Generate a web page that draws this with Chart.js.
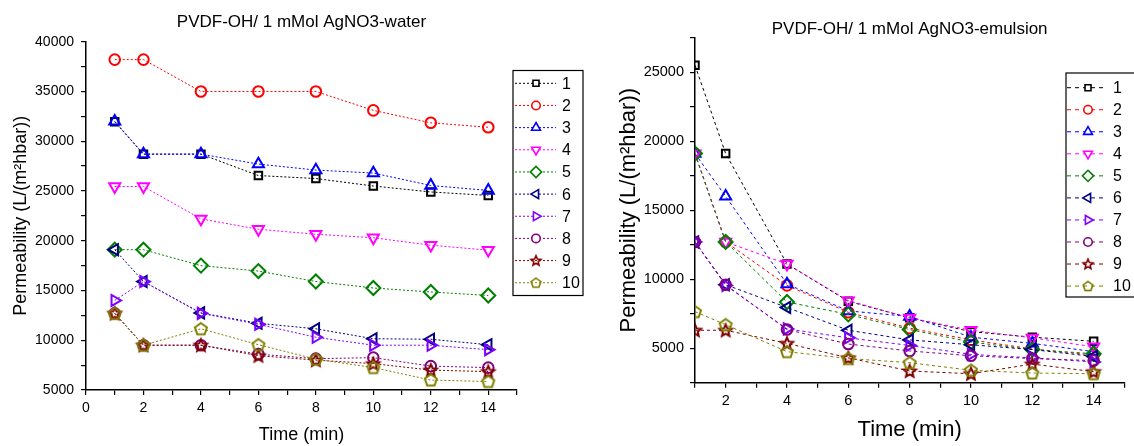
<!DOCTYPE html>
<html>
<head>
<meta charset="utf-8">
<script src="https://cdn.jsdelivr.net/npm/chart.js@4.4.0/dist/chart.umd.min.js"></script>
<style>
  body { margin: 0; background: #fff; width: 1134px; height: 446px; overflow: hidden; position: relative; }
  #waterBox { position: absolute; left: 0; top: 0; }
  #emulBox { position: absolute; left: 570px; top: 0; }
</style>
</head>
<body>
<div id="waterBox"><canvas id="waterChart" width="600" height="446"></canvas></div>
<div id="emulBox"><canvas id="emulChart" width="564" height="446"></canvas></div>
<script>
const times = [1, 2, 4, 6, 8, 10, 12, 14]
const runLabels = ['1', '2', '3', '4', '5', '6', '7', '8', '9', '10']

// PVDF-OH / AgNO3, water feed
const water1 = [31950, 28700, 28700, 26550, 26250, 25500, 24900, 24550]
const water2 = [38200, 38200, 35000, 35000, 35000, 33100, 31850, 31400]
const water3 = [32000, 28700, 28700, 27700, 27100, 26800, 25550, 25050]
const water4 = [25450, 25450, 22200, 21150, 20650, 20300, 19550, 19050]
const water5 = [19100, 19100, 17500, 16950, 15900, 15250, 14850, 14500]
const water6 = [19100, 15900, 12750, 11700, 11150, 10150, 10100, 9550]
const water7 = [14000, 15900, 12700, 11600, 10300, 9500, 9500, 9050]
const water8 = [12700, 9500, 9500, 8600, 8150, 8250, 7400, 7250]
const water9 = [12700, 9500, 9500, 8450, 8000, 7650, 7000, 6850]
const water10 = [12700, 9500, 11150, 9550, 8100, 7250, 6000, 5850]

// PVDF-OH / AgNO3, emulsion feed
const emul1 = [25500, 19100, 11100, 8400, 7200, 6200, 5800, 5500]
const emul2 = [19100, 12700, 9550, 7600, 6450, 5600, 4950, 4500]
const emul3 = [19100, 16000, 9650, 7700, 7300, 5800, 5350, 4750]
const emul4 = [19100, 12700, 11100, 8450, 7200, 6300, 5750, 5100]
const emul5 = [19100, 12700, 8350, 7450, 6350, 5450, 4900, 4600]
const emul6 = [12700, 9600, 7950, 6300, 5600, 5250, 4900, 4400]
const emul7 = [12700, 9550, 6400, 5750, 5200, 4550, 4300, 4000]
const emul8 = [12700, 9600, 6350, 5300, 4800, 4450, 4250, 4100]
const emul9 = [6300, 6300, 5350, 4300, 3350, 3150, 3850, 3300]
const emul10 = [7650, 6700, 4750, 4250, 3950, 3400, 3200, 3150]

const waterXLabels = [0, 2, 4, 6, 8, 10, 12, 14]
const waterYLabels = [5000, 10000, 15000, 20000, 25000, 30000, 35000, 40000]
const emulXLabels = [2, 4, 6, 8, 10, 12, 14]
const emulYLabels = [5000, 10000, 15000, 20000, 25000]

const colors = ['#000000', '#ff0000', '#0000ff', '#ff00ff', '#008000', '#000080', '#8000ff', '#800080', '#800000', '#808000']

Chart.defaults.font.family = '"Liberation Sans", Arial, sans-serif'
Chart.defaults.color = '#000'

function makeShape(kind, color) {
    let c = document.createElement('canvas')
    c.width = 18
    c.height = 18
    let ctx = c.getContext('2d')
    ctx.strokeStyle = color
    ctx.lineWidth = 2
    ctx.lineJoin = 'miter'
    ctx.beginPath()
    let n = kind === 'star' ? 10 : 5
    for (let i = 0; i < n; i++) {
        let a = -Math.PI / 2 + i * 2 * Math.PI / n
        let r = kind === 'star' ? (i % 2 ? 2.9 : 6.4) : 6.3
        let px = 9 + r * Math.cos(a), py = 9.5 + r * Math.sin(a)
        if (i === 0) ctx.moveTo(px, py)
        else ctx.lineTo(px, py)
    }
    ctx.closePath()
    ctx.stroke()
    return c
}

const markers = [
    { style: 'rect', rot: 0, r: 5.3 },
    { style: 'circle', rot: 0, r: 5.3 },
    { style: 'triangle', rot: 0, r: 6.4 },
    { style: 'triangle', rot: 180, r: 6.4 },
    { style: 'rectRot', rot: 0, r: 7 },
    { style: 'triangle', rot: -90, r: 6.4 },
    { style: 'triangle', rot: 90, r: 6.4 },
    { style: 'circle', rot: 0, r: 5.3 },
    { style: makeShape('star', colors[8]), rot: 0, r: 5.5 },
    { style: makeShape('pentagon', colors[9]), rot: 0, r: 5.5 }
]

function buildDatasets(series, dash) {
    return series.map(function (vals, i) {
        return {
            label: runLabels[i],
            data: times.map((t, j) => ({ x: t, y: vals[j] })),
            order: series.length - i,
            borderColor: colors[i],
            borderWidth: 1,
            borderDash: dash,
            fill: false,
            tension: 0,
            pointStyle: markers[i].style,
            pointRotation: markers[i].rot,
            pointRadius: markers[i].r,
            pointBorderWidth: 2,
            pointBorderColor: colors[i],
            pointBackgroundColor: 'rgba(0,0,0,0)'
        }
    })
}

function tickList(min, max, step) {
    let res = []
    for (let v = min; v <= max; v += step) res.push({ value: v })
    return res
}

// boxed legend like the Origin one, drawn at fixed spot
function boxLegend(cfg) {
    return {
        id: 'boxLegend',
        afterDraw(chart) {
            let ctx = chart.ctx
            ctx.save()
            ctx.setLineDash([])
            ctx.strokeStyle = '#000'
            ctx.lineWidth = 1.2
            ctx.strokeRect(cfg.left, cfg.top, cfg.width, cfg.height)
            chart.data.datasets.forEach(function (ds, i) {
                let y = cfg.firstY + i * cfg.step
                ctx.strokeStyle = ds.borderColor
                ctx.lineWidth = 1
                ctx.setLineDash(cfg.dash)
                ctx.beginPath()
                ctx.moveTo(cfg.lineFrom, y)
                ctx.lineTo(cfg.lineTo, y)
                ctx.stroke()
                ctx.setLineDash([])
                ctx.save()
                ctx.translate(cfg.markX, y)
                ctx.scale(0.8, 0.8)
                ctx.fillStyle = '#fff'
                ctx.lineWidth = 2
                Chart.helpers.drawPoint(ctx, { pointStyle: ds.pointStyle, rotation: ds.pointRotation, radius: ds.pointRadius, borderWidth: 2 }, 0, 0)
                ctx.restore()
                ctx.fillStyle = '#000'
                ctx.font = cfg.font
                ctx.textAlign = 'left'
                ctx.textBaseline = 'middle'
                ctx.fillText(ds.label, cfg.textX, y + 1)
            })
            ctx.restore()
        }
    }
}

function makeChart(canvasId, opt) {
    return new Chart(document.getElementById(canvasId), {
        type: 'line',
        data: { datasets: buildDatasets(opt.series, opt.dash) },
        options: {
            responsive: false,
            animation: false,
            layout: { padding: { left: 0, right: opt.padRight, top: 0, bottom: 0 } },
            plugins: {
                legend: { display: false },
                tooltip: { enabled: false },
                title: {
                    display: true,
                    fullSize: false,
                    text: opt.title,
                    color: '#000',
                    font: { size: 17, weight: 'normal', lineHeight: 1 },
                    padding: opt.titlePad
                }
            },
            scales: {
                x: {
                    type: 'linear',
                    min: opt.xMin,
                    max: 15,
                    afterBuildTicks: ax => { ax.ticks = tickList(opt.xMin, 15, 1) },
                    afterFit: ax => { ax.height = opt.xHeight },
                    border: { display: true, color: '#000', width: 1.5 },
                    grid: { display: true, drawOnChartArea: false, drawTicks: true, tickLength: 5, color: '#000', lineWidth: 1.2 },
                    ticks: {
                        autoSkip: false,
                        maxRotation: 0,
                        padding: opt.xTickPad,
                        font: { size: opt.tickSize },
                        callback: v => opt.xLabels.includes(v) ? String(v) : ''
                    },
                    title: {
                        display: true,
                        text: 'Time (min)',
                        font: { size: opt.axisTitleSize },
                        padding: { top: 0, bottom: opt.xTitlePad }
                    }
                },
                y: {
                    type: 'linear',
                    min: opt.yMin,
                    max: opt.yMax,
                    afterBuildTicks: ax => { ax.ticks = tickList(opt.yMin, opt.yMax, 2500) },
                    afterFit: ax => { ax.width = opt.yWidth },
                    border: { display: true, color: '#000', width: 1.5 },
                    grid: { display: true, drawOnChartArea: false, drawTicks: true, tickLength: 5, color: '#000', lineWidth: 1.2 },
                    ticks: {
                        autoSkip: false,
                        padding: opt.yTickPad,
                        font: { size: opt.tickSize },
                        callback: v => opt.yLabels.includes(v) ? String(v) : ''
                    },
                    title: {
                        display: true,
                        text: 'Permeability (L/(m²hbar))',
                        font: { size: opt.axisTitleSize },
                        padding: { top: opt.yTitlePad, bottom: 0 }
                    }
                }
            }
        },
        plugins: [boxLegend(opt.legend)]
    })
}

makeChart('waterChart', {
    series: [water1, water2, water3, water4, water5, water6, water7, water8, water9, water10],
    dash: [2, 2],
    title: 'PVDF-OH/ 1 mMol AgNO3-water',
    titlePad: { top: 13.5, bottom: 11.2 },
    padRight: 83,
    xMin: 0, xHeight: 56, xTickPad: 5, xLabels: waterXLabels, xTitlePad: 0.2,
    yMin: 5000, yMax: 40000, yWidth: 86, yTickPad: 7, yLabels: waterYLabels, yTitlePad: 9.9,
    tickSize: 14, axisTitleSize: 18,
    legend: {
        left: 513, top: 70.5, width: 70, height: 225,
        firstY: 83.3, step: 22.16, lineFrom: 515, lineTo: 556, markX: 536, textX: 562,
        dash: [2, 2], font: '16px "Liberation Sans", Arial, sans-serif'
    }
})

makeChart('emulChart', {
    series: [emul1, emul2, emul3, emul4, emul5, emul6, emul7, emul8, emul9, emul10],
    dash: [3, 3],
    title: 'PVDF-OH/ 1 mMol AgNO3-emulsion',
    titlePad: { top: 20.5, bottom: 0.2 },
    padRight: 9.7,
    xMin: 1, xHeight: 63.3, xTickPad: 5, xLabels: emulXLabels, xTitlePad: 2.8,
    yMin: 2500, yMax: 27500, yWidth: 125, yTickPad: 6, yLabels: emulYLabels, yTitlePad: 45.8,
    tickSize: 14.5, axisTitleSize: 22,
    legend: {
        left: 496, top: 73, width: 80, height: 224,
        firstY: 87.7, step: 22.04, lineFrom: 497, lineTo: 537, markX: 518, textX: 543,
        dash: [4, 4], font: '16px "Liberation Sans", Arial, sans-serif'
    }
})
</script>
</body>
</html>
